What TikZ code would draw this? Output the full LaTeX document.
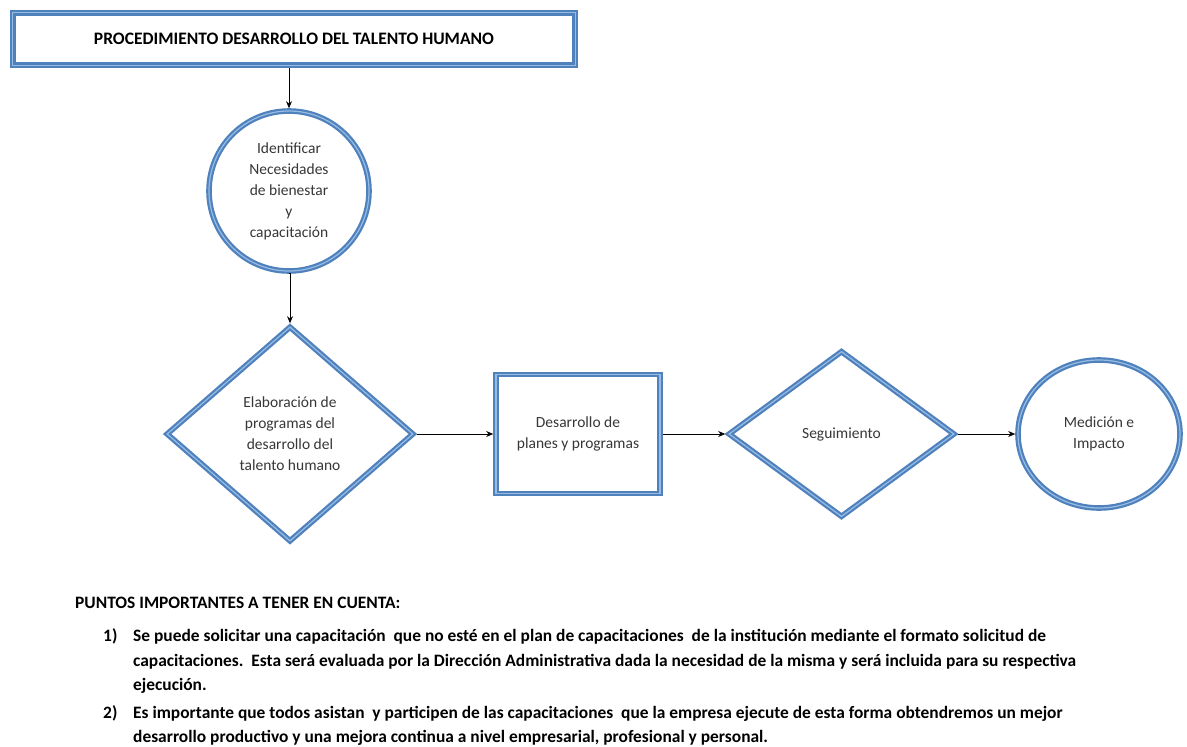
\documentclass[tikz,border=0pt]{standalone}
\usepackage{fontspec}
\setmainfont{Carlito}
\usetikzlibrary{shapes.geometric,arrows.meta}
\definecolor{bdark}{RGB}{79,129,189}
\definecolor{blight}{RGB}{150,188,228}
\definecolor{txt}{RGB}{55,55,55}
\tikzset{
  bluebox/.style={draw=bdark, double=blight, line width=2.2pt, double distance=1.2pt, fill=white, inner sep=0pt, outer sep=2.8pt, align=center, text=txt, font=\fontsize{15.5}{21}\selectfont},
  arr/.style={-{Stealth[length=7pt,width=6pt]}, line width=0.8pt, black},
  para/.style={anchor=base west, inner sep=0pt, font=\fontsize{17.4}{20}\selectfont\bfseries, text=black}
}
\begin{document}
\begin{tikzpicture}[x=1pt,y=-1pt]
\useasboundingbox[fill=white] (0,0) rectangle (1187,747);
\node[bluebox, rectangle, minimum width=562.4pt, minimum height=52.4pt, font=\fontsize{17.5}{20}\selectfont\bfseries, text=black] (title) at (294,39) {PROCEDIMIENTO DESARROLLO DEL TALENTO HUMANO};
\node[bluebox, circle, minimum size=160pt] (c1) at (289,191) {Identificar\\Necesidades\\de bienestar\\y\\capacitación};
\node[bluebox, diamond, minimum width=248pt, minimum height=216pt] (d1) at (290,434) {Elaboración de\\programas del\\desarrollo del\\talento humano};
\node[bluebox, rectangle, minimum width=164pt, minimum height=119pt] (r1) at (578,434) {Desarrollo de\\planes y programas};
\node[bluebox, diamond, minimum width=227pt, minimum height=167pt] (d2) at (841.5,434) {Seguimiento};
\node[bluebox, ellipse, minimum width=162pt, minimum height=148pt] (c2) at (1099,434) {Medición e\\Impacto};
\draw[arr] (c1.north |- title.south) -- (c1.north);
\draw[arr] (c1.south) -- (c1.south -| d1.north) -- (d1.north);
\draw[arr] (d1.east) -- (r1.west);
\draw[arr] (r1.east) -- (d2.west);
\draw[arr] (d2.east) -- (c2.west);
\node[para] (hdr) at (75,608) {PUNTOS IMPORTANTES A TENER EN CUENTA:};
\node[para] (n1) at (103,641) {1)};
\node[para] (l1) at (133,641) {Se puede solicitar una capacitación\ \ que no esté en el plan de capacitaciones\ \ de la institución mediante el formato solicitud de};
\node[para] (l2) at (133,666) {capacitaciones.\ \ Esta será evaluada por la Dirección Administrativa dada la necesidad de la misma y será incluida para su respectiva};
\node[para] (l3) at (133,690) {ejecución.};
\node[para] (n2) at (103,718) {2)};
\node[para] (l4) at (133,718) {Es importante que todos asistan\ \ y participen de las capacitaciones\ \ que la empresa ejecute de esta forma obtendremos un mejor};
\node[para] (l5) at (133,742) {desarrollo productivo y una mejora continua a nivel empresarial, profesional y personal.};
\end{tikzpicture}
\end{document}
